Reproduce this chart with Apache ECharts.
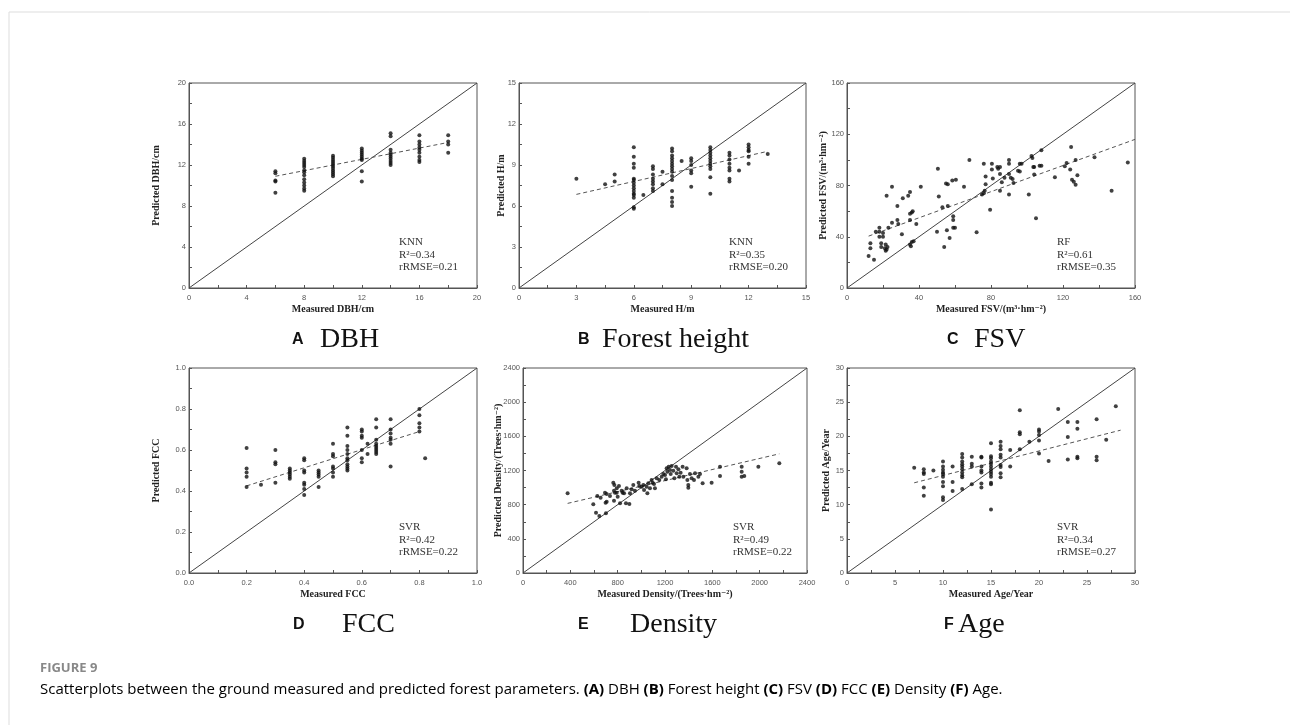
<!DOCTYPE html>
<html>
<head>
<meta charset="utf-8">
<script src="https://cdn.jsdelivr.net/npm/echarts@6/dist/echarts.min.js"></script>
<style>
  html, body { margin: 0; padding: 0; background: #fff; }
  #main { width: 1290px; height: 725px; }
</style>
</head>
<body>
<div id="main"></div>
<script>
// ---- data: [measured, predicted] ----
var dbhPoints = [
  [6,11.4],[6,11.2],[6,10.5],[6,10.4],[6,9.3],
  [8,12.6],[8,12.4],[8,12.2],[8,12.0],[8,11.8],[8,11.5],[8,11.3],[8,11.0],[8,10.6],[8,10.3],[8,10.0],[8,9.7],[8,9.5],
  [10,12.9],[10,12.7],[10,12.5],[10,12.3],[10,12.1],[10,11.9],[10,11.7],[10,11.5],[10,11.3],[10,11.1],[10,10.9],
  [12,13.6],[12,13.4],[12,13.2],[12,13.0],[12,12.8],[12,12.6],[12,12.5],[12,11.4],[12,10.4],
  [14,15.1],[14,14.8],[14,13.5],[14,13.2],[14,13.0],[14,12.8],[14,12.6],[14,12.4],[14,12.2],[14,12.0],
  [16,14.9],[16,14.3],[16,14.0],[16,13.7],[16,13.5],[16,13.2],[16,12.8],[16,12.5],[16,12.3],
  [18,14.9],[18,14.3],[18,14.0],[18,13.2]
];
var dbhTrend = [[6,10.9],[18,14.2]];

var heightPoints = [
  [3,8.0],[4.5,7.6],[5,8.3],[5,7.8],
  [6,10.3],[6,9.6],[6,9.1],[6,8.8],[6,8.0],[6,7.9],[6,7.7],[6,7.5],[6,7.3],[6,7.1],[6,6.9],[6,6.8],[6,6.6],[6,5.9],[6,5.8],
  [6.5,6.8],
  [7,8.9],[7,8.7],[7,8.3],[7,8.0],[7,7.8],[7,7.6],[7,7.3],[7,7.1],
  [7.5,8.5],[7.5,7.6],
  [8,10.2],[8,10.0],[8,9.7],[8,9.5],[8,9.3],[8,9.1],[8,8.9],[8,8.7],[8,8.5],[8,8.2],[8,7.9],[8,7.1],[8,6.6],[8,6.3],[8,6.0],
  [8.5,9.3],
  [9,9.5],[9,9.3],[9,9.0],[9,8.6],[9,8.4],[9,7.4],
  [10,10.3],[10,10.1],[10,9.9],[10,9.7],[10,9.5],[10,9.3],[10,9.1],[10,8.9],[10,8.7],[10,8.1],[10,6.9],
  [11,9.9],[11,9.7],[11,9.4],[11,9.1],[11,8.8],[11,8.6],[11,8.0],[11,7.8],
  [11.5,8.6],
  [12,10.5],[12,10.3],[12,10.1],[12,10.0],[12,9.6],[12,9.1],
  [13,9.8]
];
var heightTrend = [[3,6.85],[13,10.0]];

var fsvPoints = [
  [12,25],[13,35],[13,31],[15,22],[16,44],[18,47],[18,44],[18,40],[19,35],[19,32],[20,43],[20,40],
  [21,31],[21.5,29],[22,30],[22.5,32],[21.5,34],[22,72],[23,47],[25,51],[25,79],[28,64],[28,53],[28.5,50],
  [30.5,42],[31,70],[34,72],[35,75],[35,58],[35,53],[36,59],[36.5,60],[35.5,32.5],[35,34],[36,36],[37,36.5],
  [38.5,50],[41,79],[50.5,93],[51,71.5],[50,44],[53,63],[54,32],[55,81.5],[56,81],[56,64],[55.5,45],[57,39],
  [58.5,84],[59,56],[59,53],[59,47],[60,47],[60.5,84.5],[65,79],[68,100],[72,43.5],[75,73],[76,74],[76.5,76],
  [76,97],[77,81],[77,87],[79.5,61],[80.5,97],[80.5,92.5],[81,85.5],[83.5,94.5],[84,93],[85,94.5],[85,89],
  [85,76],[86,82.5],[87.5,86],[90,100],[90,97],[90,89],[90,73],[91,86],[92.5,82],[92,85],[95,91.5],[96,91],
  [96,97],[97,97],[101,73],[102.5,103],[103,101.5],[103.5,94.5],[104,94.5],[104,88.5],[105,54.5],[107,95.5],
  [108,95.5],[108,107.5],[115.5,86.5],[121,95],[122,97.5],[124,92.5],[124.5,110],[125,84.5],[126,83],
  [127,80.5],[127,100],[128,88],[137.5,102],[147,76],[156,98]
];
var fsvTrend = [[12,40.5],[160,116]];

var fccPoints = [
  [0.2,0.61],[0.2,0.51],[0.2,0.49],[0.2,0.47],[0.2,0.42],
  [0.25,0.43],
  [0.3,0.60],[0.3,0.54],[0.3,0.53],[0.3,0.44],
  [0.35,0.51],[0.35,0.50],[0.35,0.49],[0.35,0.48],[0.35,0.47],[0.35,0.46],
  [0.4,0.56],[0.4,0.55],[0.4,0.50],[0.4,0.49],[0.4,0.44],[0.4,0.43],[0.4,0.41],[0.4,0.38],
  [0.45,0.50],[0.45,0.49],[0.45,0.48],[0.45,0.47],[0.45,0.42],
  [0.5,0.63],[0.5,0.58],[0.5,0.57],[0.5,0.52],[0.5,0.51],[0.5,0.49],[0.5,0.47],
  [0.55,0.71],[0.55,0.67],[0.55,0.62],[0.55,0.60],[0.55,0.58],[0.55,0.56],[0.55,0.55],[0.55,0.53],[0.55,0.52],[0.55,0.51],[0.55,0.50],
  [0.6,0.70],[0.6,0.69],[0.6,0.67],[0.6,0.66],[0.6,0.60],[0.6,0.56],[0.6,0.54],
  [0.62,0.63],[0.62,0.58],
  [0.65,0.75],[0.65,0.71],[0.65,0.65],[0.65,0.63],[0.65,0.62],[0.65,0.61],[0.65,0.60],[0.65,0.59],[0.65,0.58],
  [0.7,0.75],[0.7,0.70],[0.7,0.68],[0.7,0.66],[0.7,0.65],[0.7,0.63],[0.7,0.52],
  [0.8,0.80],[0.8,0.77],[0.8,0.73],[0.8,0.71],[0.8,0.69],
  [0.82,0.56]
];
var fccTrend = [[0.2,0.425],[0.8,0.69]];

var densityPoints = [
  [377,933],[594,804],[617,706],[645,667],[628,901],[656,882],[693,940],[701,699],[707,835],[698,823],
  [707,925],[735,901],[763,1058],[772,1030],[769,964],[769,847],[777,940],[792,991],[792,940],[800,894],
  [811,1019],[820,816],[834,964],[842,940],[854,933],[876,991],[870,816],[899,808],[904,933],[918,980],
  [932,1030],[946,964],[977,1058],[983,1019],[1003,1011],[1017,1030],[1023,972],[1045,1011],[1051,933],
  [1059,1050],[1073,991],[1087,1089],[1096,1058],[1107,1042],[1115,991],[1130,1108],[1152,1089],[1172,1128],
  [1186,1159],[1200,1147],[1208,1097],[1214,1225],[1220,1186],[1231,1245],[1242,1206],[1248,1159],[1256,1253],
  [1270,1198],[1279,1108],[1293,1245],[1299,1167],[1313,1214],[1321,1128],[1332,1175],[1349,1245],[1355,1128],
  [1383,1225],[1389,1089],[1397,999],[1397,1030],[1411,1159],[1425,1108],[1445,1089],[1454,1167],[1482,1128],
  [1496,1159],[1518,1050],[1594,1058],[1665,1245],[1665,1136],[1848,1245],[1848,1186],[1848,1128],[1870,1136],
  [1989,1245],[2166,1284]
];
var densityTrend = [[377,815],[2166,1395]];

var agePoints = [
  [7,15.4],
  [8,15.2],[8,14.7],[8,14.5],[8,12.5],[8,11.3],
  [9,15.0],
  [10,16.3],[10,15.6],[10,15.1],[10,14.7],[10,14.5],[10,14.1],[10,13.3],[10,12.7],[10,11.1],[10,10.7],
  [11,15.6],[11,13.3],[11,12.0],
  [12,17.4],[12,16.9],[12,16.3],[12,15.9],[12,15.6],[12,15.2],[12,14.7],[12,14.3],[12,14.0],[12,12.3],
  [13,17.0],[13,16.0],[13,15.6],[13,13.0],
  [14,17.0],[14,16.9],[14,15.6],[14,15.0],[14,14.7],[14,13.1],[14,12.5],
  [15,19.0],[15,17.1],[15,16.8],[15,16.3],[15,16.0],[15,15.6],[15,15.2],[15,14.8],[15,14.5],[15,14.1],[15,13.2],[15,13.0],[15,9.3],
  [16,19.2],[16,18.6],[16,18.1],[16,17.3],[16,16.9],[16,15.8],[16,15.5],[16,14.6],[16,14.0],
  [17,18.0],[17,15.6],
  [18,23.8],[18,20.6],[18,20.3],[18,18.1],
  [19,19.2],
  [20,21.0],[20,20.7],[20,20.2],[20,19.4],[20,17.5],
  [21,16.4],
  [22,24.0],
  [23,22.1],[23,19.9],[23,16.6],
  [24,22.1],[24,21.1],[24,17.0],[24,16.8],
  [26,22.5],[26,17.0],[26,16.5],
  [27,19.5],
  [28,24.4]
];
var ageTrend = [[7,13.2],[28.5,20.9]];

// axis ranges and tick steps
var axisMax  = [20, 15, 160, 1.0, 2400, 30];
var axisStep = [4, 3, 40, 0.2, 400, 5];

var xNames = ['Measured DBH/cm', 'Measured H/m', 'Measured FSV/(m\u00b3\u00b7hm\u207b\u00b2)',
              'Measured FCC', 'Measured Density/(Trees\u00b7hm\u207b\u00b2)', 'Measured Age/Year'];
var yNames = ['Predicted DBH/cm', 'Predicted H/m', 'Predicted FSV/(m\u00b3\u00b7hm\u207b\u00b2)',
              'Predicted FCC', 'Predicted Density/(Trees\u00b7hm\u207b\u00b2)', 'Predicted Age/Year'];
var models = ['KNN', 'KNN', 'RF', 'SVR', 'SVR', 'SVR'];
var r2s    = ['0.34', '0.35', '0.61', '0.42', '0.49', '0.34'];
var rrmses = ['0.21', '0.20', '0.35', '0.22', '0.22', '0.27'];
var letters = ['A', 'B', 'C', 'D', 'E', 'F'];
var titles  = ['DBH', 'Forest height', 'FSV', 'FCC', 'Density', 'Age'];

var pointSets = [dbhPoints, heightPoints, fsvPoints, fccPoints, densityPoints, agePoints];
var trendSets = [dbhTrend, heightTrend, fsvTrend, fccTrend, densityTrend, ageTrend];

// layout of the six panels
var boxes = [
  {left: 189, top: 83,  width: 288, height: 205, yGap: 28},
  {left: 519, top: 83,  width: 287, height: 205, yGap: 13},
  {left: 847, top: 83,  width: 288, height: 205, yGap: 19},
  {left: 189, top: 368, width: 288, height: 205, yGap: 28},
  {left: 523, top: 368, width: 284, height: 205, yGap: 20},
  {left: 847, top: 368, width: 288, height: 205, yGap: 16}
];
// panel label positions: letter left, title left
var labelPos = [
  {lx: 292, tx: 320}, {lx: 578, tx: 602}, {lx: 947, tx: 974},
  {lx: 293, tx: 342}, {lx: 578, tx: 630}, {lx: 944, tx: 958}
];

var axisColor = '#555';
var serif = '"Liberation Serif", "DejaVu Serif", serif';
var sans = '"Liberation Sans", Arial, sans-serif';

function makeAxis(i, isX) {
  return {
    gridIndex: i,
    type: 'value',
    min: 0,
    max: axisMax[i],
    interval: axisStep[i],
    name: isX ? xNames[i] : yNames[i],
    nameLocation: 'middle',
    nameGap: isX ? 16 : boxes[i].yGap,
    nameMoveOverlap: false,
    nameTextStyle: {fontFamily: serif, fontWeight: 'bold', fontSize: 10, color: '#222'},
    axisLine: {show: true, onZero: false, lineStyle: {color: axisColor, width: 1}},
    axisTick: {show: true, inside: true, length: 3, lineStyle: {color: axisColor}},
    minorTick: {show: true, splitNumber: 2, length: 3, lineStyle: {color: axisColor}},
    splitLine: {show: false},
    axisLabel: {
      fontFamily: sans, fontSize: 7.5, color: '#555', margin: isX ? 6 : 3,
      formatter: function (v) { return i === 3 ? v.toFixed(1) : String(v); }
    }
  };
}

var grids = [], xAxes = [], yAxes = [], series = [], graphics = [];
for (var i = 0; i < 6; i++) {
  var b = boxes[i];
  grids.push({left: b.left, top: b.top, width: b.width, height: b.height,
              show: true, borderColor: axisColor, borderWidth: 1, backgroundColor: 'transparent'});
  xAxes.push(makeAxis(i, true));
  yAxes.push(makeAxis(i, false));

  // 1:1 line
  series.push({type: 'line', xAxisIndex: i, yAxisIndex: i, silent: true, showSymbol: false,
               data: [[0, 0], [axisMax[i], axisMax[i]]],
               lineStyle: {color: '#444', width: 1}, z: 2});
  // fitted line
  series.push({type: 'line', xAxisIndex: i, yAxisIndex: i, silent: true, showSymbol: false,
               data: trendSets[i],
               lineStyle: {color: '#555', width: 1, type: [4, 3]}, z: 3});
  // points
  series.push({type: 'scatter', xAxisIndex: i, yAxisIndex: i, symbolSize: 4,
               data: pointSets[i], itemStyle: {color: '#111'}, z: 4});

  // model stats
  graphics.push({type: 'text', left: b.left + 210, top: b.top + 153, silent: true,
    style: {text: models[i] + '\nR\u00b2=' + r2s[i] + '\nrRMSE=' + rrmses[i],
            font: '11px ' + serif, fill: '#333', lineHeight: 12.5}});

  // panel label
  var cy = b.top + 257;
  graphics.push({type: 'text', x: labelPos[i].lx, y: cy, silent: true,
    style: {text: letters[i], font: 'bold 16px ' + sans, fill: '#111', verticalAlign: 'middle'}});
  graphics.push({type: 'text', x: labelPos[i].tx, y: cy, silent: true,
    style: {text: titles[i], font: '28px ' + serif, fill: '#111', verticalAlign: 'middle'}});
}

// page frame and caption
graphics.push({type: 'line', silent: true, shape: {x1: 9, y1: 12, x2: 1290, y2: 12}, style: {stroke: '#ddd', lineWidth: 1}});
graphics.push({type: 'line', silent: true, shape: {x1: 9, y1: 12, x2: 9, y2: 725}, style: {stroke: '#ddd', lineWidth: 1}});
graphics.push({type: 'text', x: 40, y: 668, silent: true,
  style: {text: 'FIGURE 9', font: 'bold 13px "Open Sans", sans-serif', fill: '#888', verticalAlign: 'middle'}});

var capParts = [
  ['n', 'Scatterplots between the ground measured and predicted forest parameters. '],
  ['b', '(A)'], ['n', ' DBH '], ['b', '(B)'], ['n', ' Forest height '], ['b', '(C)'], ['n', ' FSV '],
  ['b', '(D)'], ['n', ' FCC '], ['b', '(E)'], ['n', ' Density '], ['b', '(F)'], ['n', ' Age.']
];
graphics.push({type: 'text', x: 40, y: 690, silent: true,
  style: {
    text: capParts.map(function (p) { return '{' + p[0] + '|' + p[1] + '}'; }).join(''),
    verticalAlign: 'middle',
    rich: {
      n: {fontFamily: '"Open Sans", sans-serif', fontSize: 15, color: '#808080'},
      b: {fontFamily: '"Open Sans", sans-serif', fontSize: 15, fontWeight: 'bold', color: '#7a7a7a'}
    }
  }});

var chart = echarts.init(document.getElementById('main'));
chart.setOption({
  animation: false,
  backgroundColor: '#fff',
  grid: grids,
  xAxis: xAxes,
  yAxis: yAxes,
  series: series,
  graphic: graphics
});
</script>
</body>
</html>
